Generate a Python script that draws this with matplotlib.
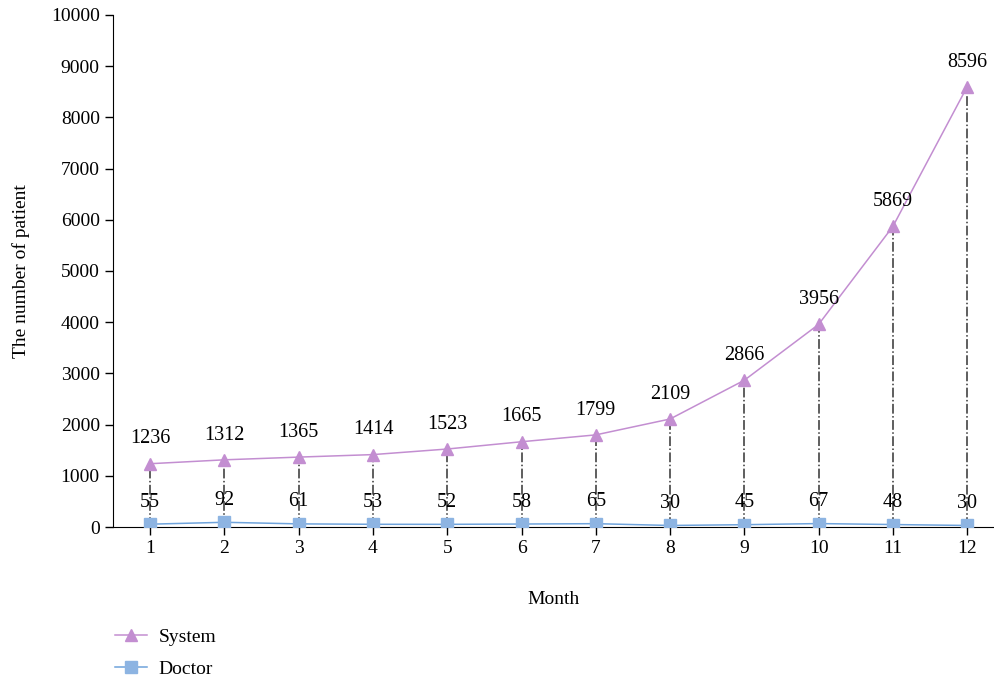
import matplotlib
matplotlib.use('Agg')
import matplotlib.pyplot as plt

months = [1, 2, 3, 4, 5, 6, 7, 8, 9, 10, 11, 12]
system = [1236, 1312, 1365, 1414, 1523, 1665, 1799, 2109, 2866, 3956, 5869, 8596]
doctor = [55, 92, 61, 53, 52, 58, 65, 30, 45, 67, 48, 30]

plt.rcParams['font.family'] = ['Liberation Serif', 'DejaVu Serif']
plt.rcParams['font.size'] = 13

fig = plt.figure(figsize=(9.95, 6.8), dpi=100)
ax = fig.add_axes([0.1136, 0.225, 0.886, 0.753])

c_sys = '#C38ED1'
c_doc = '#6FA3DB'

# drop lines from each system point to the axis
ax.vlines(months, 0, system, colors='#333333', linestyles='dashdot', linewidth=1.1, zorder=1)

ax.plot(months, system, color=c_sys, marker='^', markersize=8.5, linewidth=1.1,
        markerfacecolor=c_sys, markeredgecolor=c_sys, label='System', zorder=3)
ax.plot(months, doctor, color=c_doc, marker='s', markersize=9, linewidth=1.1,
        markerfacecolor='#8DB4E2', markeredgecolor='#8DB4E2', label='Doctor', zorder=3)

for m, v in zip(months, system):
    ax.annotate(str(v), (m, v), xytext=(0, 11), textcoords='offset points',
                ha='center', va='bottom', fontsize=14.5)
for m, v in zip(months, doctor):
    ax.annotate(str(v), (m, v), xytext=(0, 9), textcoords='offset points',
                ha='center', va='bottom', fontsize=14.5)

ax.set_xlim(0.5, 12.37)
ax.set_ylim(0, 10000)
ax.set_xticks(months)
ax.set_yticks(range(0, 10001, 1000))
ax.spines['right'].set_visible(False)
ax.spines['top'].set_visible(False)
ax.tick_params(direction='out', length=6, width=1, labelsize=14)
ax.set_xlabel('Month', fontsize=14, labelpad=24)
ax.set_ylabel('The number of patient', fontsize=14, labelpad=15)

fig.legend(loc='upper left', bbox_to_anchor=(0.098, 0.102), frameon=False,
           fontsize=14, handlelength=1.65, handletextpad=0.6, labelspacing=0.75)

fig.savefig('out.png', dpi=100)
